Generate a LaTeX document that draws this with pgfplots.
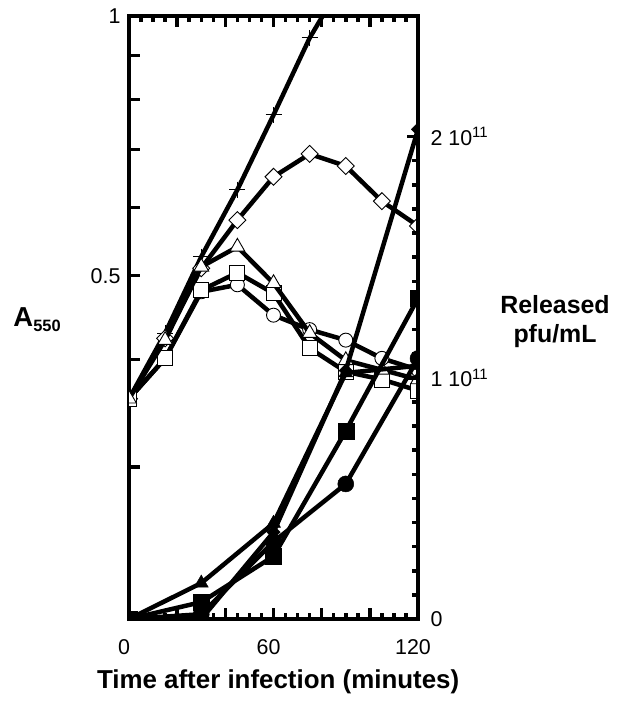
\documentclass[border=0pt]{standalone}
\usepackage{pgfplots}
\pgfplotsset{compat=1.18}
\usepackage{fontspec}
\setmainfont{Liberation Sans}

% Turbidity (A550) of the infected culture, log scale
\pgfplotstableread{
t    plus
0    0.36
15   0.429
30   0.526
45   0.629
60   0.768
75   0.943
90   1.11
}\plustab
\pgfplotstableread{
t    diam   tri    sq     circ
0    0.36   0.36   0.36   0.36
15   0.423  0.421  0.401  0.401
30   0.510  0.512  0.481  0.479
45   0.580  0.540  0.504  0.488
60   0.651  0.490  0.477  0.450
75   0.692  0.429  0.412  0.433
90   0.670  0.399  0.387  0.421
105  0.610  0.389  0.379  0.401
120  0.571  0.379  0.368  0.389
}\absorb
% Released phage titre (pfu/mL)
\pgfplotstableread{
t    fdiam    ftri     fsq      fcirc
0    0        0        0        0
30   0        0.149e11 0.07e11  0.02e11
60   0.36e11  0.397e11 0.26e11  0.32e11
90   1.03e11  1.02e11  0.78e11  0.56e11
120  2.03e11  1.05e11  1.33e11  1.08e11
}\titre

\pgfplotsset{
  frame/.style={
    scale only axis, width=289bp, height=603bp,
    xmin=0, xmax=120,
    tick align=inside,
    major tick length=11bp, minor tick length=6bp,
    tick style={line width=3.5bp, black},
    axis line style={line width=4.5bp, -},
    tick label style={font=\fontsize{21.5}{24}\selectfont},
    clip marker paths=true,
  },
  curve/.style={line width=4.5bp, black},
  openmark/.style={mark options={line width=0.9bp, solid, fill=white, draw=black, #1}},
  openmark/.default={},
  fullmark/.style={mark options={line width=0.5bp, solid, fill=black, draw=black, #1}},
  fullmark/.default={},
}

\begin{document}
\begin{tikzpicture}
\begin{axis}[
  frame,
  ymode=log, ymin=0.2, ymax=1,
  xtick={0,20,...,120}, xticklabels={0,,,60,,,120},
  minor x tick num=3,
  xticklabel style={xshift=-5bp, yshift=-17bp},
  ytick={0.2,0.3,0.4,0.5,0.6,0.7,0.8,0.9,1},
  yticklabels={,,,0.5,,,,,1},
  yticklabel style={xshift=-5bp},
  minor ytick={},
  ytick pos=left,
  xlabel={\fontsize{26}{30}\selectfont\bfseries Time after infection (minutes)},
  xlabel style={at={(axis description cs:0.516,-0.1035)}, anchor=center},
  ylabel={{\fontsize{27.5}{30}\selectfont\bfseries A}\raisebox{-5bp}{\fontsize{16.5}{18}\selectfont\bfseries 550}},
  ylabel style={rotate=-90, at={(axis description cs:-0.318,0.496)}, anchor=center},
]
% page frame corners
\coordinate (pageSW) at (axis description cs:-0.4464,-0.1376);
\coordinate (pageNE) at (axis description cs:1.6955,1.0265);
\addplot[curve, mark=+, mark size=8bp, mark indices={1,2,3,4,5,6},
  mark options={line width=1bp, solid}] table[x=t, y=plus] {\plustab};
\addplot[curve, mark=square*, mark size=6bp, openmark={rotate=45}]
  table[x=t, y=diam] {\absorb};
\addplot[curve, mark=*, mark size=7bp, openmark] table[x=t, y=circ] {\absorb};
\addplot[curve, mark=square*, mark size=7.5bp, openmark] table[x=t, y=sq] {\absorb};
\addplot[curve, mark=triangle*, mark size=8.5bp, openmark] table[x=t, y=tri] {\absorb};
\end{axis}

\begin{axis}[
  frame,
  ymin=0, ymax=2.5e11,
  axis x line=none,
  axis y line*=right,
  tick align=inside,
  ytick={0,1e11,2e11},
  yticklabels={0,1 10\textsuperscript{11},2 10\textsuperscript{11}},
  scaled y ticks=false,
  minor y tick num=9,
  yticklabel style={xshift=9bp},
  ylabel={\fontsize{25}{29}\selectfont\bfseries\begin{tabular}{@{}c@{}}Released\\pfu/mL\end{tabular}},
  ylabel style={rotate=-90, at={(axis description cs:1.474,0.4925)}, anchor=center},
]
\addplot[curve, mark=square*, mark size=4.7bp, fullmark={rotate=45}]
  table[x=t, y=fdiam] {\titre};
\addplot[curve, mark=triangle*, mark size=8bp, fullmark] table[x=t, y=ftri] {\titre};
\addplot[curve, mark=*, mark size=8bp, fullmark] table[x=t, y=fcirc] {\titre};
\addplot[curve, mark=square*, mark size=8bp, fullmark] table[x=t, y=fsq] {\titre};
\end{axis}
\path (pageSW) rectangle (pageNE);
\end{tikzpicture}
\end{document}
